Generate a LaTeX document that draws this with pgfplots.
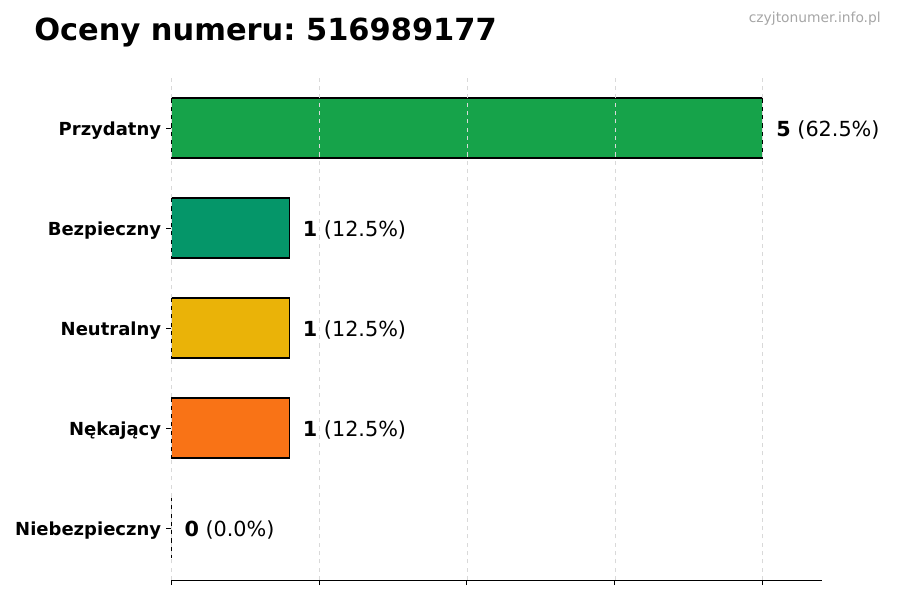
\documentclass[border=0pt]{standalone}
\usepackage{pgfplots}
\pgfplotsset{compat=1.18}
\usepackage{fontspec}
\setmainfont{DejaVu Sans}
\frenchspacing

\definecolor{cPrz}{HTML}{16A34A}
\definecolor{cBez}{HTML}{059669}
\definecolor{cNeu}{HTML}{EAB308}
\definecolor{cNek}{HTML}{F97316}
\definecolor{cNie}{HTML}{DC2626}

\begin{document}
\begin{tikzpicture}
\useasboundingbox (0,0) rectangle (9in,6in);
\begin{axis}[
    at={(1.71in,0.20in)}, anchor=south west,
    scale only axis,
    width=6.51in, height=5.05in,
    xbar, bar shift=0pt, bar width=0.6,
    xmin=0, xmax=5.5,
    ymin=-0.52, ymax=4.53,
    xtick={0,1.25,2.5,3.75,5},
    xticklabels={},
    ytick={0,1,2,3,4},
    yticklabels={Niebezpieczny,Nękający,Neutralny,Bezpieczny,Przydatny},
    yticklabel style={font=\bfseries\fontsize{13}{15}\selectfont, black, yshift=-0.025in},
    axis lines=left,
    axis line style={-},
    y axis line style={draw=none},
    tick align=outside,
    major tick length=0.05in,
    tick style={black, line width=0.6pt},
    xmajorgrids,
    grid style={dashed, gray!30, line width=0.5pt},
    axis on top,
    point meta=explicit symbolic,
    nodes near coords,
    every node near coord/.style={anchor=west, inner sep=0pt, xshift=0.13in, yshift=-0.015in,
        font=\fontsize{15}{18}\selectfont, black},
    every axis plot/.append style={draw=black, line width=0.8pt},
]
\addplot[fill=cNie] coordinates {(0,0) [{\textbf{0} (0.0\%)}]};
\addplot[fill=cNek] coordinates {(1,1) [{\textbf{1} (12.5\%)}]};
\addplot[fill=cNeu] coordinates {(1,2) [{\textbf{1} (12.5\%)}]};
\addplot[fill=cBez] coordinates {(1,3) [{\textbf{1} (12.5\%)}]};
\addplot[fill=cPrz] coordinates {(5,4) [{\textbf{5} (62.5\%)}]};
\end{axis}
\node[anchor=west, inner sep=0pt, font=\bfseries\fontsize{22}{26}\selectfont] at (0.34in,5.68in) {Oceny numeru: 516989177};
\node[anchor=east, inner sep=0pt, font=\fontsize{10}{12}\selectfont, text=gray!70] at (8.81in,5.81in) {czyjtonumer.info.pl};
\end{tikzpicture}
\end{document}
